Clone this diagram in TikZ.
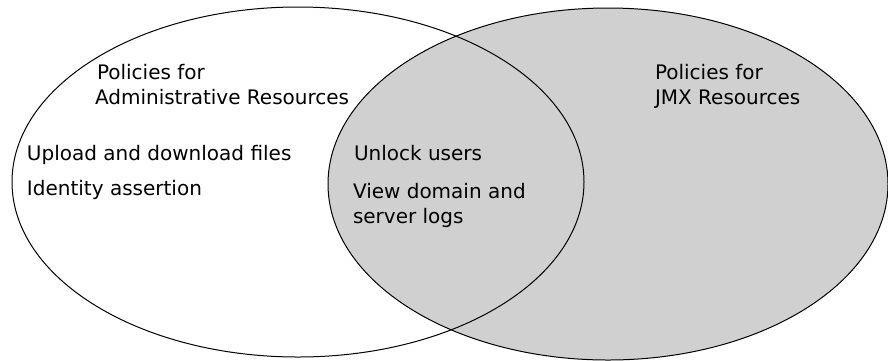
\documentclass[tikz,border=0pt]{standalone}
\usepackage{fontspec}
\setmainfont{DejaVu Sans}
\definecolor{setgray}{RGB}{208,208,208}
\begin{document}
\begin{tikzpicture}[x=1pt,y=-1pt,
  lbl/.style={anchor=base west,inner sep=0pt,outer sep=0pt,font=\fontsize{20}{25}\selectfont,text=black},
  outline/.style={draw=black,line width=1pt}]
\useasboundingbox (0,0) rectangle (888,360);
\fill[white] (0,0) rectangle (888,360);
% right set filled
\fill[setgray] (608,184) ellipse [x radius=280, y radius=176];
% outlines
\draw[outline] (298,182) ellipse [x radius=286, y radius=175];
\draw[outline] (608,184) ellipse [x radius=280, y radius=176];
% texts
\node[lbl] (adm1) at (97,79) {Policies for};
\node[lbl] (adm2) at (95,104) {Administrative Resources};
\node[lbl] (upl) at (27,160) {Upload and download files};
\node[lbl] (idn) at (27,195) {Identity assertion};
\node[lbl] (unl) at (354,160) {Unlock users};
\node[lbl] (vw1) at (353,198) {View domain and};
\node[lbl] (vw2) at (353,223) {server logs};
\node[lbl] (jmx1) at (655,79) {Policies for};
\node[lbl] (jmx2) at (655,104) {JMX Resources};
\end{tikzpicture}
\end{document}
